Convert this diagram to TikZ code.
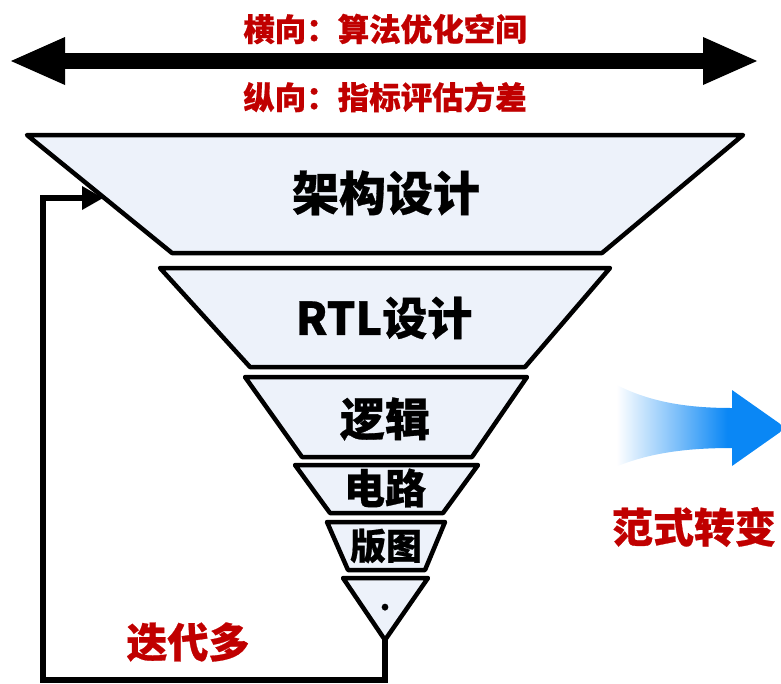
\documentclass[tikz,border=0pt]{standalone}
\usepackage{fontspec}
\newfontfamily\cjk{Noto Sans CJK SC}[BoldFeatures={FakeBold=0.6}]
\usetikzlibrary{arrows.meta}
\definecolor{darkred}{RGB}{192,0,0}
\definecolor{layerfill}{RGB}{237,242,250}
\definecolor{bluearrow}{RGB}{10,135,245}
\pgfdeclarehorizontalshading{arrowshade}{100bp}{color(0bp)=(white); color(26bp)=(white); color(44bp)=(bluearrow!55); color(58bp)=(bluearrow); color(100bp)=(bluearrow)}
\tikzset{
  layer/.style={draw=black, line width=4.5pt, fill=layerfill, line join=round},
  redtxt/.style={text=darkred, inner sep=0pt},
  blacktxt/.style={text=black, inner sep=0pt},
}
\newcommand{\fs}[1]{\cjk\bfseries\fontsize{#1}{#1}\selectfont}
\begin{document}
\begin{tikzpicture}[x=1pt,y=-1pt]
\useasboundingbox (0,0) rectangle (781,683);

% top double arrow
\coordinate (L) at (11,61);
\coordinate (R) at (757,61);
\draw[line width=16pt, {Triangle[length=54pt,width=48pt,line width=0pt]}-{Triangle[length=54pt,width=48pt,line width=0pt]}] (L) -- (R);
\node[redtxt, font=\fs{31.5}] (horiz) at (385,29) {横向：算法优化空间};
\node[redtxt, font=\fs{31.5}] (vert) at (385,97) {纵向：指标评估方差};

% funnel layers
\draw[layer] (27,135) coordinate (t1a) -- (743,135) -- (602,253) -- (172,253) -- cycle;
\node[blacktxt, font=\fs{47}] (arch) at (386,193) {架构设计};
\draw[layer] (160,268) -- (610,268) -- (525,367) -- (250,367) -- cycle;
\node[blacktxt, font=\fs{45}] (rtl) at (384,318) {RTL设计};
\draw[layer] (245,377) -- (527,377) -- (472,457) -- (302,457) -- cycle;
\node[blacktxt, font=\fs{45}] (logic) at (385,419) {逻辑};
\draw[layer] (295,465) -- (478,465) -- (443,513) -- (330,513) -- cycle;
\node[blacktxt, font=\fs{41}] (circ) at (385,488) {电路};
\draw[layer] (327,522) -- (445,522) -- (425,570) -- (348,570) -- cycle;
\node[blacktxt, font=\fs{36}] (layout) at (386,546) {版图};
\draw[layer] (343,578) -- (428,578) -- (385,640) coordinate (apex) -- cycle;
\node[blacktxt, font=\fs{30}, anchor=base] (dot) at (385,610) {.};

% feedback loop
\coordinate (fbtarget) at (103,198);
\draw[line width=6pt, line join=miter, -{Triangle[length=21pt,width=24pt,line width=0pt]}]
  (apex) -- (385,680) -- (43,680) -- (43,198) -- (fbtarget);
\node[redtxt, font=\fs{41}] (iter) at (188,642) {迭代多};

% blue arrow
\shade[shading=arrowshade]
  (613,383) .. controls (650,403) and (690,408) .. (732,408)
  -- (732,390) -- (786,428) -- (732,466) -- (732,448)
  .. controls (690,448) and (650,452) .. (613,468) -- cycle;
\node[redtxt, font=\fs{41}] (shift) at (694,527) {范式转变};
\end{tikzpicture}
\end{document}
